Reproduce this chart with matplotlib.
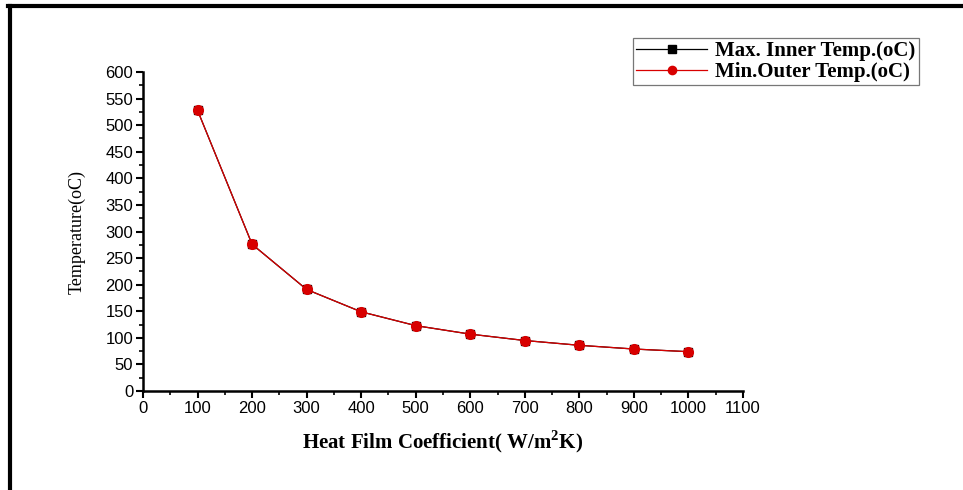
import matplotlib
matplotlib.use('Agg')
import matplotlib.pyplot as plt
from matplotlib.lines import Line2D
from matplotlib.ticker import MultipleLocator

plt.rcParams['mathtext.fontset'] = 'custom'
plt.rcParams['mathtext.rm'] = 'Liberation Serif'
plt.rcParams['mathtext.bf'] = 'Liberation Serif:bold'

# Data
h_coeff = [100, 200, 300, 400, 500, 600, 700, 800, 900, 1000]
max_inner = [528, 276, 191, 149, 123, 107, 95, 86, 79, 74]
min_outer = [528, 276, 191, 149, 123, 107, 95, 86, 79, 74]

fig = plt.figure(figsize=(9.63, 4.9), dpi=100)
ax = fig.add_axes([0.1485, 0.202, 0.623, 0.651])

ax.plot(h_coeff, max_inner, color='black', lw=0.9, marker='s', ms=6,
        label='Max. Inner Temp.(oC)')
ax.plot(h_coeff, min_outer, color='#d80000', lw=0.9, marker='o', ms=7,
        label='Min.Outer Temp.(oC)')

ax.set_xlim(0, 1100)
ax.set_ylim(0, 600)
ax.xaxis.set_major_locator(MultipleLocator(100))
ax.xaxis.set_minor_locator(MultipleLocator(50))
ax.yaxis.set_major_locator(MultipleLocator(50))
ax.yaxis.set_minor_locator(MultipleLocator(25))

for side in ['top', 'right']:
    ax.spines[side].set_visible(False)
for side in ['left', 'bottom']:
    ax.spines[side].set_linewidth(1.8)
ax.tick_params(which='major', direction='out', length=5, width=1.5,
               labelsize=12, pad=2)
ax.tick_params(which='minor', direction='out', length=3, width=1.2)
for lab in ax.get_xticklabels() + ax.get_yticklabels():
    lab.set_fontfamily('Liberation Sans')

ax.set_xlabel('Heat Film Coefficient( W/m$^{\\mathbf{2}}$K)', family='Liberation Serif',
              fontweight='bold', fontsize=15, labelpad=9)
ax.set_ylabel('Temperature(oC)', family='Liberation Serif', fontsize=13,
              labelpad=14)

leg = ax.legend(loc='upper left', bbox_to_anchor=(0.817, 1.107),
                prop={'family': 'Liberation Serif', 'weight': 'bold', 'size': 15},
                frameon=True, fancybox=False, edgecolor='#555555',
                borderpad=0.15, labelspacing=0.05, handlelength=3.4,
                handletextpad=0.4, borderaxespad=0, markerscale=0.85)
leg.get_frame().set_linewidth(0.9)

# Outer border (top and left edges)
fig.add_artist(Line2D([0.0104, 0.0104], [0.0, 0.988], transform=fig.transFigure,
                      color='black', lw=3))
fig.add_artist(Line2D([0.0088, 1.0], [0.988, 0.988], transform=fig.transFigure,
                      color='black', lw=3))

fig.savefig('out.png', dpi=100)
